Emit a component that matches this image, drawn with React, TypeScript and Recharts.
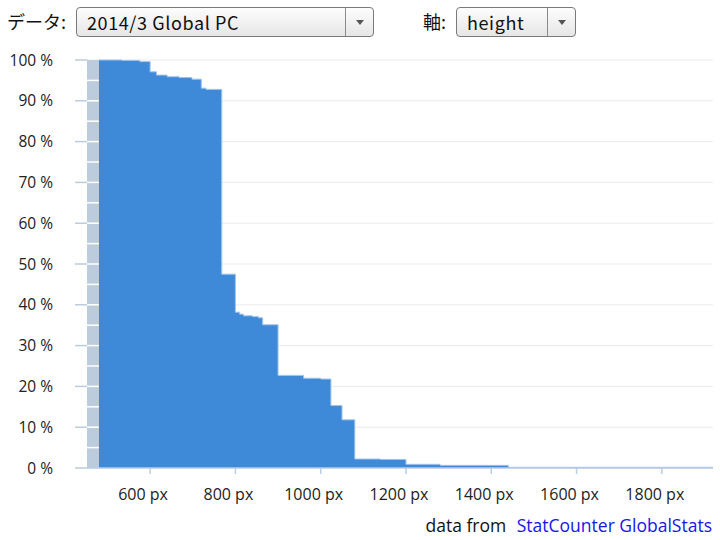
import React from 'react';
import { AreaChart, Area, XAxis, YAxis, CartesianGrid, ReferenceArea, ReferenceLine } from 'recharts';

// screen height (px) where each step starts, and share of screens at least that tall (%)
const heights = [480, 534, 576, 600, 615, 640, 668, 698, 720, 731, 768, 800, 810, 819, 840, 854, 864, 900, 960, 1000, 1024, 1050, 1080, 1140, 1200, 1280, 1440, 1920];
const shares = [100, 99.9, 99.6, 97.1, 96.3, 95.9, 95.7, 95.3, 93.1, 92.8, 47.5, 38.2, 37.7, 37.3, 37.1, 36.8, 35.1, 22.7, 22.0, 21.8, 15.3, 11.8, 2.2, 2.1, 0.9, 0.65, 0.17, 0.17];

const xTicks = [600, 800, 1000, 1200, 1400, 1600, 1800];
const yTicks = [0, 10, 20, 30, 40, 50, 60, 70, 80, 90, 100];
const bandLines = [5, 10, 15, 20, 25, 30, 35, 40, 45, 50, 55, 60, 65, 70, 75, 80, 85, 90, 95];

const BAND_FROM = 452;
const BAND_TO = 480;

const data = heights.map((h, i) => ({ px: h, share: shares[i] }));

const uiFont = '"Noto Sans CJK JP", "Noto Sans", sans-serif';
const chartFont = '"Open Sans", "Noto Sans CJK JP", sans-serif';

const Select: React.FC<{ left: number; width: number; label: string }> = ({ left, width, label }) => (
    <div
        style={{
            position: 'absolute',
            left,
            top: 7,
            width,
            height: 30,
            boxSizing: 'border-box',
            border: '1px solid #7a7a7a',
            borderRadius: 4,
            background: 'linear-gradient(#fdfdfd, #e6e6e6)',
        }}
    >
        <span style={{ position: 'absolute', left: 10, top: 2, fontSize: 18, letterSpacing: 0.6, color: '#111', lineHeight: '24px' }}>{label}</span>
        <div style={{ position: 'absolute', right: 27, top: 0, bottom: 0, borderLeft: '1px solid #8a8a8a' }} />
        <div
            style={{
                position: 'absolute',
                right: 9,
                top: 12,
                width: 0,
                height: 0,
                borderLeft: '4px solid transparent',
                borderRight: '4px solid transparent',
                borderTop: '5px solid #555',
            }}
        />
    </div>
);

export default function App() {
    return (
        <div style={{ position: 'absolute', left: 0, top: 0, width: 720, height: 540, background: '#fff', fontFamily: uiFont }}>
            <span style={{ position: 'absolute', left: 7, top: 9, fontSize: 18, color: '#111', lineHeight: '24px' }}>データ:</span>
            <Select left={76} width={298} label="2014/3 Global PC" />
            <span style={{ position: 'absolute', left: 423, top: 9, fontSize: 18, color: '#111', lineHeight: '24px' }}>軸:</span>
            <Select left={456} width={120} label="height" />

            <div style={{ position: 'absolute', left: 0, top: 0 }}>
                <AreaChart width={720} height={512} data={data} margin={{ top: 60, right: 7, left: 0, bottom: 0 }}>
                    <CartesianGrid vertical={false} stroke="#ebebeb" />
                    <XAxis
                        dataKey="px"
                        type="number"
                        domain={[BAND_FROM, 1920]}
                        allowDataOverflow
                        ticks={xTicks}
                        tickFormatter={(v) => `${v} px`}
                        height={44}
                        tickSize={6}
                        tickMargin={15}
                        axisLine={{ stroke: '#b8cde6', strokeWidth: 1.5 }}
                        tickLine={{ stroke: '#b8cde6', strokeWidth: 1.5 }}
                        tick={{ fontSize: 16, fill: '#222', fontFamily: chartFont, dx: -7 }}
                    />
                    <YAxis
                        type="number"
                        domain={[0, 100]}
                        ticks={yTicks}
                        tickFormatter={(v) => `${v} %`}
                        width={87}
                        tickSize={12}
                        tickMargin={22}
                        axisLine={false}
                        tickLine={{ stroke: '#bccbdc', strokeWidth: 1.5 }}
                        tick={{ fontSize: 15.5, fill: '#222', fontFamily: chartFont }}
                    />
                    <ReferenceArea x1={BAND_FROM} x2={BAND_TO} y1={0} y2={100} fill="#bdccdc" fillOpacity={1} stroke="none" />
                    {bandLines.map((v) => (
                        <ReferenceLine
                            key={v}
                            segment={[{ x: BAND_FROM, y: v }, { x: BAND_TO, y: v }]}
                            stroke="#ffffff"
                            strokeWidth={1.5}
                        />
                    ))}
                    <Area
                        type="stepAfter"
                        dataKey="share"
                        fill="#3f8ad8"
                        fillOpacity={1}
                        stroke="#9fc3ec"
                        strokeWidth={1}
                        isAnimationActive={false}
                    />
                </AreaChart>
            </div>

            <div style={{ position: 'absolute', right: 8, top: 512, fontSize: 17.5, lineHeight: '26px', color: '#111', fontFamily: chartFont }}>
                data from <span style={{ marginLeft: 6, color: '#1515f0' }}>StatCounter GlobalStats</span>
            </div>
        </div>
    );
}
